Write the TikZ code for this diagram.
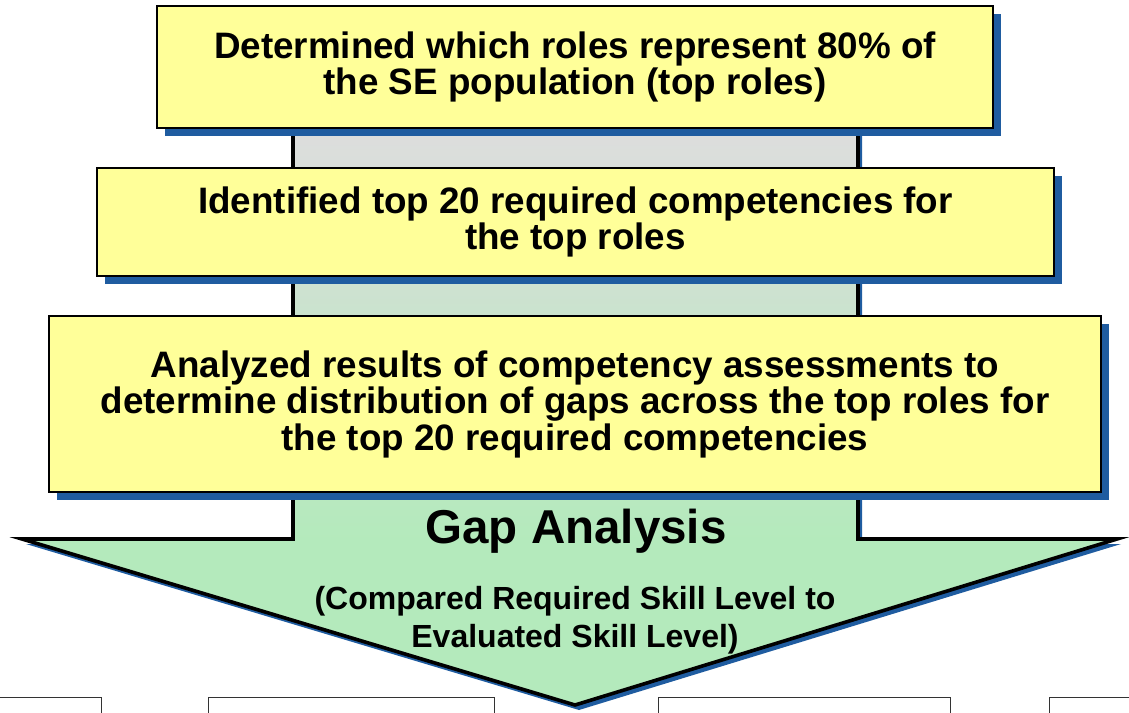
\documentclass[tikz,border=0pt]{standalone}
\usepackage{fontspec}
\setmainfont{Liberation Sans}
\usetikzlibrary{shadows}
\definecolor{boxyellow}{RGB}{255,255,153}
\definecolor{shadowblue}{RGB}{31,92,160}
\definecolor{shaftgray}{RGB}{221,221,221}
\definecolor{arrowgreen}{RGB}{180,234,188}
\tikzset{
  stepbox/.style={draw=black, line width=2.6pt, fill=boxyellow, align=center,
    inner sep=0pt, font=\bfseries\fontsize{36.8}{36.5}\selectfont,
    drop shadow={shadow xshift=8pt, shadow yshift=-8pt, fill=shadowblue, opacity=1}},
  blankbox/.style={draw=black!80, line width=1pt, fill=white},
  outlinepath/.style={draw=black, line width=3.6pt, line join=miter},
}
\begin{document}
\begin{tikzpicture}[x=1pt,y=-1pt]
\useasboundingbox (0,0) rectangle (1129,712);
\clip (0,0) rectangle (1129,712);
% bottom blank boxes
\draw[blankbox] (-5,697) rectangle (101,730);
\draw[blankbox] (208,697) rectangle (494,730);
\draw[blankbox] (658,697) rectangle (950,730);
\draw[blankbox] (1049,697) rectangle (1140,730);
% arrow shadow
\fill[shadowblue] (297,90) -- (297,544) -- (26,544) -- (579,710) -- (1121,544) -- (862,544) -- (862,90) -- cycle;
% arrow fill
\fill[arrowgreen] (293,90) -- (293,539) -- (22,539) -- (575,705) -- (1117,539) -- (858,539) -- (858,90) -- cycle;
\shade[top color=shaftgray, bottom color=arrowgreen] (293,130) rectangle (858,541);
\fill[shaftgray] (293,90) rectangle (858,130);
% arrow outline
\draw[outlinepath] (293,90) -- (293,539) -- (22,539) -- (575,705) -- (1117,539) -- (858,539) -- (858,90);
% boxes
\node[stepbox, minimum width=836pt, minimum height=122pt] (b1) at (575,67)
  {Determined which roles represent 80\% of\\the SE population (top roles)};
\node[stepbox, minimum width=957pt, minimum height=108pt] (b2) at (575.5,222)
  {Identified top 20 required competencies for\\the top roles};
\node[stepbox, minimum width=1052pt, minimum height=176pt] (b3) at (575,404)
  {Analyzed results of competency assessments to\\determine distribution of gaps across the top roles for\\the top 20 required competencies};
% labels
\node[font=\bfseries\fontsize{47.5}{50}\selectfont, inner sep=0pt] (gap) at (576,531) {Gap Analysis};
\node[font=\bfseries\fontsize{32}{38}\selectfont, align=center, inner sep=0pt] (sub) at (575,620)
  {(Compared Required Skill Level to\\Evaluated Skill Level)};
\end{tikzpicture}
\end{document}
